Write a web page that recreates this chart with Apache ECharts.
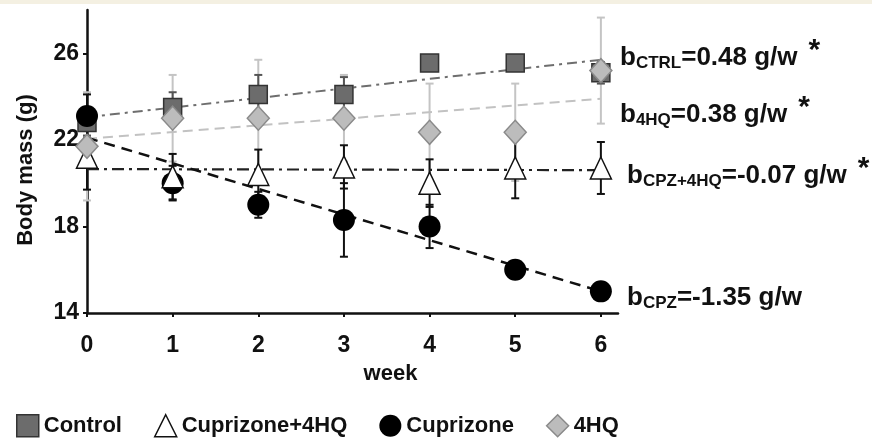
<!DOCTYPE html>
<html><head><meta charset="utf-8">
<script src="https://cdn.jsdelivr.net/npm/echarts@6/dist/echarts.min.js"></script>
<style>html,body{margin:0;padding:0;background:#fff}#c{width:872px;height:438px}</style>
</head><body><div id="c"></div>
<script>
// ---- data ----
const weeks = [0, 1, 2, 3, 4, 5, 6];
const ctrlMean = [22.8, 23.5, 24.1, 24.1, 25.55, 25.55, 25.1];
const ctrlSD = [0.6, 0.7, 0.9, 0.8, 0.3, 0.3, 0.5];
const cpz4hqMean = [21.2, 20.3, 20.4, 20.75, 20.0, 20.7, 20.7];
const cpz4hqSD = [1.5, 1.05, 1.15, 1.0, 1.1, 1.4, 1.2];
const cpzMean = [23.1, 20.0, 19.0, 18.3, 18.0, 16.0, 15.0];
const cpzSD = [1.0, 0.8, 0.6, 1.7, 1.0, 0.2, 0.2];
const hqMean = [21.7, 23.0, 23.0, 23.0, 22.35, 22.35, 25.2];
const hqSD = [2.5, 2.0, 2.7, 2.0, 2.25, 2.25, 2.45];
// regression lines: values at week 0 and week 6 as drawn
const trendWeeks = [0, 6];
const ctrlTrend = [23.05, 25.7];
const hqTrend = [22.05, 23.9];
const cpz4hqTrend = [20.65, 20.6];
const cpzTrend = [22.1, 15.0];
const yTicks = [14, 18, 22, 26];
const xTicks = [0, 1, 2, 3, 4, 5, 6];
const seriesNames = ['Control', 'Cuprizone+4HQ', 'Cuprizone', '4HQ'];
const slopeSubs = ['CTRL', '4HQ', 'CPZ+4HQ', 'CPZ'];
const slopeVals = ['=0.48 g/w', '=0.38 g/w', '=-0.07 g/w', '=-1.35 g/w'];
const slopeStars = ['*', '*', '*', ''];
const xName = 'week';
const yName = 'Body mass (g)';

const FONT = 'Liberation Sans, Arial, sans-serif';
const pairs = (xs, ys) => xs.map((x, i) => [x, ys[i]]);

function errSeries(mean, sd, color, z) {
  return {
    type: 'custom', silent: true, z: z, animation: false,
    data: weeks.map((w, i) => [w, mean[i], sd[i]]),
    encode: { x: 0, y: 1 },
    renderItem: function (params, api) {
      const x = api.value(0), m = api.value(1), s = api.value(2);
      const top = api.coord([x, m + s]), bot = api.coord([x, m - s]);
      const cw = 4;
      const st = { stroke: color, lineWidth: 2 };
      return { type: 'group', children: [
        { type: 'line', shape: { x1: top[0], y1: top[1], x2: bot[0], y2: bot[1] }, style: st },
        { type: 'line', shape: { x1: top[0] - cw, y1: top[1], x2: top[0] + cw, y2: top[1] }, style: st },
        { type: 'line', shape: { x1: bot[0] - cw, y1: bot[1], x2: bot[0] + cw, y2: bot[1] }, style: st }
      ]};
    }
  };
}
function trend(vals, color, width, dash, z) {
  return { type: 'line', silent: true, z: z, animation: false, symbol: 'none',
    data: pairs(trendWeeks, vals), lineStyle: { color: color, width: width, type: dash } };
}

const styles = {
  'Control': { symbol: 'rect', size: 18, item: { color: '#6c6c6c', borderColor: '#333', borderWidth: 1.5, opacity: 1 } },
  'Cuprizone+4HQ': { symbol: 'triangle', size: [21, 22], item: { color: '#fff', borderColor: '#111', borderWidth: 1.5, opacity: 1 } },
  'Cuprizone': { symbol: 'circle', size: 22, item: { color: '#000', borderColor: '#000', borderWidth: 0, opacity: 1 } },
  '4HQ': { symbol: 'diamond', size: [22, 24], item: { color: '#bcbcbc', borderColor: '#8a8a8a', borderWidth: 1.5, opacity: 1 } }
};
const means = { 'Control': ctrlMean, 'Cuprizone+4HQ': cpz4hqMean, 'Cuprizone': cpzMean, '4HQ': hqMean };
const zOrder = { 'Control': 10, 'Cuprizone': 11, 'Cuprizone+4HQ': 12, '4HQ': 13 };

const scatterSeries = seriesNames.map(n => ({
  name: n, type: 'scatter', animation: false, z: zOrder[n],
  symbol: styles[n].symbol, symbolSize: styles[n].size,
  itemStyle: styles[n].item, data: pairs(weeks, means[n])
}));

const annTops = [36, 93, 154, 285];
const annLefts = [620, 620, 627, 627];
const annotations = slopeSubs.map((s, i) => ({
  type: 'text', left: annLefts[i], top: annTops[i], z: 50,
  style: {
    text: '{b|b}{s|' + s + '}{b|' + slopeVals[i] + '}' + (slopeStars[i] ? '{st|' + slopeStars[i] + '}' : ''),
    rich: {
      b: { fontFamily: FONT, fontWeight: 'bold', fontSize: 26, fill: '#111', color: '#111' },
      s: { fontFamily: FONT, fontWeight: 'bold', fontSize: 17, fill: '#111', color: '#111', padding: [11, 0, 0, 0] },
      st: { fontFamily: FONT, fontWeight: 'bold', fontSize: 30, fill: '#111', color: '#111', padding: [0, 0, 13, 11] }
    }
  }
}));

const chart = echarts.init(document.getElementById('c'), null, { renderer: 'canvas' });
chart.setOption({
  backgroundColor: '#fff',
  animation: false,
  grid: { left: 87, right: 254, top: 10, bottom: 125 },
  xAxis: {
    type: 'value', min: 0, max: 6.2,
    name: xName, nameLocation: 'middle', nameGap: 50,
    nameTextStyle: { fontFamily: FONT, fontWeight: 'bold', fontSize: 22, color: '#111', padding: [0, 0, 0, 76] },
    axisLine: { lineStyle: { color: '#111', width: 2.5 } },
    axisTick: { show: true, length: 4, lineStyle: { color: '#111', width: 2 }, customValues: xTicks },
    axisLabel: { fontFamily: FONT, fontWeight: 'bold', fontSize: 23, color: '#111', margin: 21, customValues: xTicks },
    splitLine: { show: false }
  },
  yAxis: {
    type: 'value', min: 14, max: 28,
    name: yName, nameLocation: 'middle', nameGap: 50,
    nameTextStyle: { fontFamily: FONT, fontWeight: 'bold', fontSize: 22, color: '#111', padding: [0, 17, 0, 0] },
    axisLine: { show: true, lineStyle: { color: '#111', width: 2.5 } },
    axisTick: { show: true, length: 4, lineStyle: { color: '#111', width: 2 }, customValues: yTicks },
    axisLabel: { fontFamily: FONT, fontWeight: 'bold', fontSize: 23, color: '#111', margin: 8, customValues: yTicks },
    splitLine: { show: false }
  },
  legend: {
    left: 11, top: 409, itemWidth: 22, itemHeight: 22, itemGap: 32,
    textStyle: { fontFamily: FONT, fontWeight: 'bold', fontSize: 22, color: '#111' },
    data: seriesNames.map(n => ({ name: n, icon: styles[n].symbol, itemStyle: styles[n].item }))
  },
  graphic: [
    { type: 'rect', left: 0, top: 0, z: 100, shape: { width: 872, height: 4 }, style: { fill: '#f4f0e2' } }
  ].concat(annotations),
  series: [
    errSeries(hqMean, hqSD, '#c4c4c4', 2),
    errSeries(ctrlMean, ctrlSD, '#555', 3),
    errSeries(cpzMean, cpzSD, '#111', 3),
    errSeries(cpz4hqMean, cpz4hqSD, '#111', 3),
    trend(hqTrend, '#c2c2c2', 2, [10, 6], 4),
    trend(ctrlTrend, '#6e6e6e', 2, [10, 5, 3, 5], 4),
    trend(cpz4hqTrend, '#222', 2.2, [12, 5, 3, 5], 4),
    trend(cpzTrend, '#111', 2.5, [11, 7], 4)
  ].concat(scatterSeries)
});
</script></body></html>
